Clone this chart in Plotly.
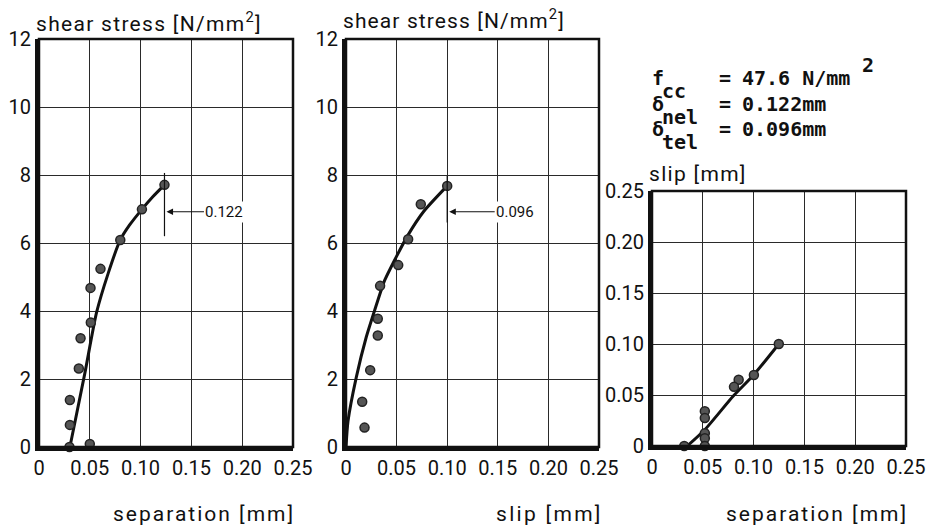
import plotly.graph_objects as go

# ---------------- data ----------------
# Panel 1: shear stress vs separation
p1_sep = [0.1235, 0.1013, 0.080, 0.0605, 0.0507, 0.051, 0.0409, 0.0392, 0.0304, 0.0304, 0.030, 0.050]
p1_tau = [7.71, 6.99, 6.09, 5.24, 4.68, 3.66, 3.20, 2.31, 1.38, 0.65, 0.0, 0.09]
c1_sep = [0.0304, 0.045, 0.0566, 0.068, 0.080, 0.0892, 0.1013, 0.112, 0.1235]
c1_tau = [0.0, 2.15, 3.95, 5.1, 6.09, 6.53, 6.99, 7.36, 7.71]

# Panel 2: shear stress vs slip
p2_slip = [0.100, 0.0739, 0.0614, 0.0516, 0.0337, 0.0314, 0.0314, 0.0239, 0.016, 0.0183]
p2_tau = [7.68, 7.14, 6.11, 5.35, 4.74, 3.77, 3.28, 2.26, 1.33, 0.57]
c2_slip = [0.0, 0.002, 0.0101, 0.0199, 0.0281, 0.0379, 0.0493, 0.0608, 0.0771, 0.100]
c2_tau = [0.0, 0.76, 2.04, 3.22, 4.0, 4.88, 5.57, 6.21, 6.94, 7.68]

# Panel 3: slip vs separation
p3_sep = [0.1248, 0.1003, 0.0853, 0.0807, 0.052, 0.052, 0.052, 0.052, 0.052, 0.0317]
p3_slip = [0.100, 0.0696, 0.065, 0.058, 0.034, 0.0274, 0.0125, 0.0076, 0.0, 0.0]
c3_sep = [0.0346, 0.052, 0.080, 0.100, 0.1248]
c3_slip = [0.0, 0.016, 0.049, 0.0696, 0.100]

# tick labels
x_ticks = [0, 0.05, 0.10, 0.15, 0.20, 0.25]
x_ticktext = ["0", "0.05", "0.10", "0.15", "0.20", "0.25"]
tau_ticks = [0, 2, 4, 6, 8, 10, 12]
slip_ticks = [0, 0.05, 0.10, 0.15, 0.20, 0.25]
slip_ticktext = ["0", "0.05", "0.10", "0.15", "0.20", "0.25"]

# marker annotations (elastic limits)
nel_label = "0.122"
tel_label = "0.096"
mark_tau_range = [6.2, 8.06]
mark_tau_range2 = [6.6, 7.97]
arrow_tau = 6.92

FONT = "Roboto"
INK = "#111111"
W, H = 927, 527

fig = go.Figure()

mk = dict(size=9, color="#555555", line=dict(width=1.5, color="#222222"))
ln = dict(color="#111111", width=3, shape="spline", smoothing=0.6)

for cx, cy, px_, py_, xa, ya in [
    (c1_sep, c1_tau, p1_sep, p1_tau, "x", "y"),
    (c2_slip, c2_tau, p2_slip, p2_tau, "x2", "y2"),
    (c3_sep, c3_slip, p3_sep, p3_slip, "x3", "y3"),
]:
    fig.add_trace(go.Scatter(x=cx, y=cy, mode="lines", line=ln,
                             xaxis=xa, yaxis=ya, showlegend=False, cliponaxis=False))
    fig.add_trace(go.Scatter(x=px_, y=py_, mode="markers", marker=mk,
                             xaxis=xa, yaxis=ya, showlegend=False, cliponaxis=False))

axis_common = dict(showgrid=True, gridcolor="#2a2a2a", gridwidth=1.4, zeroline=False,
                   showline=True, linecolor="#111111", linewidth=4, ticks="",
                   automargin=False,
                   tickfont=dict(family=FONT, size=20, color=INK))

dom1 = [39 / W, 293 / W]
dom2 = [346 / W, 599 / W]
dom3 = [652 / W, 906 / W]
ydom12 = [1 - 447 / H, 1 - 39 / H]
ydom3 = [1 - 446 / H, 1 - 191 / H]

fig.update_layout(
    width=W, height=H, margin=dict(l=0, r=0, t=0, b=0, pad=0, autoexpand=False),
    paper_bgcolor="white", plot_bgcolor="white",
    xaxis=dict(domain=dom1, range=[0, 0.25], tickvals=x_ticks, ticktext=x_ticktext,
               anchor="y", **axis_common),
    yaxis=dict(domain=ydom12, range=[0, 12], tickvals=tau_ticks, anchor="x", **axis_common),
    xaxis2=dict(domain=dom2, range=[0, 0.25], tickvals=x_ticks, ticktext=x_ticktext,
                anchor="y2", **axis_common),
    yaxis2=dict(domain=ydom12, range=[0, 12], tickvals=tau_ticks, anchor="x2", **axis_common),
    xaxis3=dict(domain=dom3, range=[0, 0.25], tickvals=x_ticks, ticktext=x_ticktext,
                anchor="y3", **axis_common),
    yaxis3=dict(domain=ydom3, range=[0, 0.25], tickvals=slip_ticks, ticktext=slip_ticktext,
                anchor="x3", **axis_common),
)

# frames (thinner top / right border)
for xr in ["x", "x2", "x3"]:
    yr = xr.replace("x", "y")
    fig.add_shape(type="rect", xref=f"{xr} domain", yref=f"{yr} domain",
                  x0=0, x1=1, y0=0, y1=1, line=dict(color="#111111", width=2.5), layer="above")

# elastic-limit markers
fig.add_shape(type="line", xref="x", yref="y", x0=c1_sep[-1], x1=c1_sep[-1],
              y0=mark_tau_range[0], y1=mark_tau_range[1], line=dict(color="#111111", width=1.2))
fig.add_shape(type="line", xref="x2", yref="y2", x0=c2_slip[-1], x1=c2_slip[-1],
              y0=mark_tau_range2[0], y1=mark_tau_range2[1], line=dict(color="#111111", width=1.2))

fig.add_annotation(x=c1_sep[-1], y=arrow_tau, xref="x", yref="y", text=nel_label,
                   showarrow=True, arrowhead=2, arrowsize=1.2, arrowwidth=1.1, arrowcolor="#111",
                   ax=60, ay=0, standoff=2, bgcolor="white",
                   font=dict(family=FONT, size=15, color=INK))
fig.add_annotation(x=c2_slip[-1], y=arrow_tau, xref="x2", yref="y2", text=tel_label,
                   showarrow=True, arrowhead=2, arrowsize=1.2, arrowwidth=1.1, arrowcolor="#111",
                   ax=68, ay=0, standoff=2, bgcolor="white",
                   font=dict(family=FONT, size=15, color=INK))


def px(x):
    return x / W


def py(y):
    return 1 - y / H


def spaced(t, sp):
    return f'<span style="letter-spacing:{sp}px">{t}</span>'


# axis titles as annotations
tfont = dict(family=FONT, size=21, color=INK)
fig.add_annotation(xref="paper", yref="paper", x=px(34), y=py(38), xanchor="left",
                   yanchor="bottom", text=spaced("shear stress [N/mm<sup>2</sup>]", 1.3),
                   showarrow=False, font=tfont)
fig.add_annotation(xref="paper", yref="paper", x=px(341), y=py(35), xanchor="left",
                   yanchor="bottom", text=spaced("shear stress [N/mm<sup>2</sup>]", 1.1),
                   showarrow=False, font=tfont)
fig.add_annotation(xref="paper", yref="paper", x=px(647), y=py(188), xanchor="left",
                   yanchor="bottom", text=spaced("slip [mm]", 1.3), showarrow=False, font=tfont)
fig.add_annotation(xref="paper", yref="paper", x=px(297), y=py(528), xanchor="right",
                   yanchor="bottom", text=spaced("separation [mm]", 2), showarrow=False, font=tfont)
fig.add_annotation(xref="paper", yref="paper", x=px(605), y=py(528), xanchor="right",
                   yanchor="bottom", text=spaced("slip [mm]", 2.3), showarrow=False, font=tfont)
fig.add_annotation(xref="paper", yref="paper", x=px(910), y=py(528), xanchor="right",
                   yanchor="bottom", text=spaced("separation [mm]", 2), showarrow=False, font=tfont)

# parameter block
mono = dict(family="DejaVu Sans Mono", size=20, color=INK)
rows = [
    ("f", "cc", "47.6 N/mm", 78, 91),
    ("δ", "nel", "0.122mm", 104, 117),
    ("δ", "tel", "0.096mm", 129, 142),
]
for sym, sub, rhs, ymain, ysub in rows:
    fig.add_annotation(xref="paper", yref="paper", x=px(650), y=py(ymain),
                       xanchor="left", yanchor="middle", text=f"<b>{sym}</b>",
                       showarrow=False, font=mono)
    fig.add_annotation(xref="paper", yref="paper", x=px(660), y=py(ysub),
                       xanchor="left", yanchor="middle", text=f"<b>{sub}</b>",
                       showarrow=False, font=mono)
    fig.add_annotation(xref="paper", yref="paper", x=px(717), y=py(ymain),
                       xanchor="left", yanchor="middle", text="<b>=</b>",
                       showarrow=False, font=mono)
    fig.add_annotation(xref="paper", yref="paper", x=px(740), y=py(ymain),
                       xanchor="left", yanchor="middle", text=f"<b>{rhs}</b>",
                       showarrow=False, font=mono)
fig.add_annotation(xref="paper", yref="paper", x=px(860), y=py(65),
                   xanchor="left", yanchor="middle", text="<b>2</b>",
                   showarrow=False, font=mono)

fig.write_html("out.html")
